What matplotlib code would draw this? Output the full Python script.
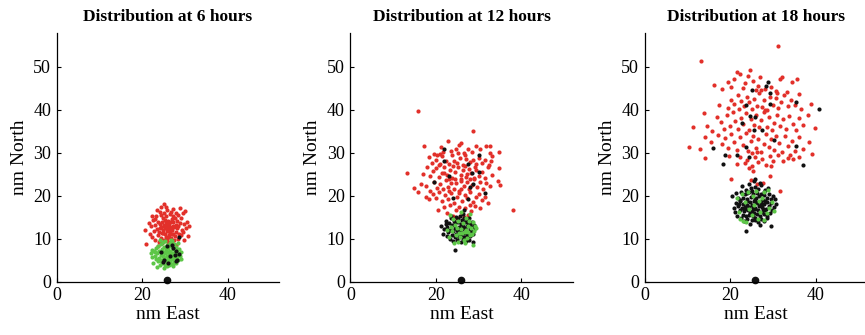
import numpy as np
import matplotlib
matplotlib.use('Agg')
import matplotlib.pyplot as plt

plt.rcParams['font.family'] = ['Liberation Serif', 'DejaVu Serif']
plt.rcParams['font.size'] = 11

# estimated positions (nm East, nm North) of the drifting particles
hours = [6, 12, 18]
origin = (25.8, 0.3)

red_6 = [
    (20.6, 12.1), (21.0, 8.8), (21.6, 13.6), (21.9, 11.2), (22.1, 12.9), (22.4, 10.4), (22.6, 14.3), (22.8, 11.8),
    (22.9, 9.6), (23.1, 13.1), (23.2, 15.2), (23.4, 12.2), (23.5, 16.6), (23.6, 10.9), (23.8, 14.0), (23.9, 11.6),
    (24.0, 9.3), (24.1, 13.5), (24.2, 12.4), (24.3, 15.6), (24.4, 17.4), (24.5, 10.2), (24.6, 13.9), (24.7, 11.3),
    (24.8, 14.8), (24.9, 12.0), (25.0, 18.0), (25.0, 9.8), (25.1, 13.2), (25.2, 16.1), (25.3, 11.0), (25.3, 14.4),
    (25.4, 12.6), (25.5, 10.5), (25.6, 15.2), (25.7, 13.0), (25.8, 11.8), (25.9, 16.8), (26.0, 12.2), (26.0, 9.2),
    (26.1, 14.1), (26.2, 10.9), (26.3, 13.5), (26.4, 15.8), (26.5, 11.4), (26.6, 12.8), (26.7, 16.3), (26.8, 10.1),
    (26.9, 14.6), (27.0, 12.0), (27.1, 13.9), (27.2, 11.0), (27.3, 15.3), (27.4, 9.6), (27.5, 12.7), (27.6, 14.9),
    (27.7, 10.7), (27.8, 13.3), (27.9, 16.0), (28.0, 11.6), (28.1, 12.4), (28.2, 14.2), (28.3, 9.9), (28.4, 15.6),
    (28.5, 12.9), (28.6, 11.2), (28.8, 13.7), (28.9, 17.2), (29.0, 10.8), (29.1, 14.8), (29.3, 12.1), (29.5, 15.9),
    (29.6, 11.5), (29.8, 13.4), (30.0, 16.4), (30.2, 12.6), (30.4, 14.0), (30.7, 10.6), (30.9, 13.0), (23.0, 14.7),
    (24.6, 8.9), (26.4, 8.7), (25.6, 17.3), (27.3, 17.0), (22.3, 15.4), (29.9, 9.7), (24.1, 16.3), (27.8, 8.6),
    (23.6, 8.2), (26.9, 9.0), (25.2, 12.9), (26.3, 11.9), (25.8, 13.6), (26.7, 12.4), (24.8, 11.4), (27.3, 13.0),
    (25.5, 14.0), (26.1, 10.4), (24.4, 12.8), (27.0, 11.1), (25.9, 10.0), (26.6, 13.9),
]
green_6 = [
    (22.1, 6.6), (22.4, 5.8), (22.6, 4.3), (22.8, 7.2), (23.0, 6.1), (23.2, 5.2), (23.3, 7.9), (23.5, 6.7),
    (23.6, 4.8), (23.8, 8.4), (23.9, 5.6), (24.0, 7.1), (24.1, 3.9), (24.3, 6.3), (24.4, 8.8), (24.5, 5.1),
    (24.6, 7.6), (24.7, 4.4), (24.8, 6.0), (24.9, 9.2), (25.0, 3.2), (25.0, 7.0), (25.1, 5.5), (25.2, 8.1),
    (25.3, 4.0), (25.3, 6.6), (25.4, 9.5), (25.5, 5.0), (25.6, 7.4), (25.7, 3.6), (25.7, 6.1), (25.8, 8.6),
    (25.9, 4.6), (26.0, 6.9), (26.0, 5.4), (26.1, 7.9), (26.2, 3.8), (26.3, 6.3), (26.4, 9.0), (26.5, 4.9),
    (26.5, 7.2), (26.6, 5.8), (26.7, 8.3), (26.8, 4.2), (26.9, 6.6), (27.0, 9.5), (27.0, 5.2), (27.1, 7.6),
    (27.2, 3.6), (27.3, 6.0), (27.4, 8.7), (27.5, 4.7), (27.6, 7.0), (27.7, 5.5), (27.8, 8.0), (27.9, 6.4),
    (28.0, 4.4), (28.1, 7.3), (28.2, 5.8), (28.4, 6.8), (28.5, 5.0), (28.7, 7.6), (28.8, 6.1), (29.0, 5.4),
    (29.2, 6.9), (23.4, 3.5), (24.2, 9.6), (26.8, 9.8), (28.3, 9.1), (22.3, 7.4), (24.9, 5.9), (26.2, 6.8),
    (25.5, 8.0), (27.1, 4.1), (24.3, 4.8), (23.1, 6.9),
]
black_6 = [
    (24.5, 7.0), (25.2, 5.0), (26.5, 6.0), (27.0, 8.6), (27.6, 6.3), (27.9, 4.8), (28.2, 5.1),
    (28.6, 6.4), (28.6, 10.5), (26.0, 4.4), (25.8, 8.4), (27.3, 7.8), (24.8, 4.6), (28.0, 7.1),
]

red_12 = [
    (19.5, 29.7), (20.2, 29.5), (21.3, 31.4), (22.8, 32.7), (23.5, 30.4), (24.7, 31.0), (25.5, 31.9), (26.0, 32.2),
    (26.8, 29.5), (28.4, 30.2), (29.3, 31.6), (30.4, 31.0), (31.8, 31.5), (32.6, 30.0), (33.2, 29.2), (21.7, 30.2),
    (27.5, 30.8), (25.1, 29.9), (18.3, 29.0), (19.1, 27.6), (20.0, 28.3), (20.8, 27.1), (21.5, 29.2), (22.4, 28.0),
    (23.1, 27.3), (23.8, 29.4), (24.2, 28.2), (25.0, 27.6), (25.7, 28.9), (26.3, 27.2), (27.0, 28.6), (27.9, 27.9),
    (28.6, 28.3), (29.5, 27.4), (30.1, 28.8), (30.8, 27.6), (31.6, 28.4), (32.4, 27.2), (33.0, 28.0), (34.7, 30.1),
    (20.9, 29.8), (26.6, 29.9), (17.1, 25.0), (18.0, 26.6), (18.6, 24.5), (19.4, 25.7), (20.1, 26.4), (20.7, 24.3),
    (21.4, 25.4), (22.0, 26.8), (22.6, 24.9), (23.3, 26.1), (23.9, 24.2), (24.5, 25.6), (25.2, 26.6), (25.8, 24.8),
    (26.4, 25.9), (27.1, 24.4), (27.7, 26.3), (28.3, 25.2), (28.9, 24.1), (29.5, 26.0), (30.1, 24.6), (30.7, 25.5),
    (31.4, 24.2), (32.2, 26.6), (33.1, 24.8), (34.8, 26.5), (24.0, 26.9), (26.9, 27.0), (29.1, 26.8), (21.0, 27.5),
    (14.8, 21.9), (16.5, 22.8), (17.8, 22.3), (18.6, 21.2), (19.5, 23.3), (20.2, 21.9), (20.9, 22.7), (21.6, 21.5),
    (22.3, 23.6), (22.9, 22.1), (23.5, 23.0), (24.2, 21.6), (24.8, 22.9), (25.4, 21.2), (26.0, 23.5), (26.6, 22.2),
    (27.2, 23.3), (27.8, 21.6), (28.4, 22.6), (29.0, 23.8), (29.7, 22.0), (30.3, 23.1), (31.0, 21.6), (31.7, 22.9),
    (32.6, 22.2), (34.6, 23.4), (35.0, 22.5), (25.9, 24.0), (23.1, 24.0), (28.1, 24.0), (15.9, 20.8), (17.6, 19.8),
    (18.5, 19.3), (19.3, 20.5), (20.1, 19.6), (20.8, 20.9), (21.5, 18.7), (22.2, 20.1), (22.9, 19.2), (23.6, 20.6),
    (24.3, 18.4), (24.9, 19.8), (25.5, 20.7), (26.1, 18.9), (26.8, 20.2), (27.4, 19.4), (28.1, 20.8), (28.7, 18.6),
    (29.4, 19.8), (30.1, 20.5), (30.8, 19.1), (31.6, 19.8), (32.2, 18.3), (25.8, 21.5), (23.0, 21.0), (27.9, 17.9),
    (20.5, 16.6), (21.8, 17.4), (22.6, 16.0), (23.4, 17.9), (24.1, 15.3), (24.8, 16.8), (25.5, 17.5), (26.2, 16.1),
    (26.9, 17.2), (27.6, 15.6), (28.3, 16.4), (29.1, 17.6), (30.3, 17.1), (25.0, 14.8), (26.6, 15.0), (15.9, 39.7),
    (38.0, 16.7), (13.3, 25.4), (28.6, 35.0), (17.2, 31.6), (32.6, 31.6), (22.0, 25.3), (27.4, 25.1), (24.6, 23.9),
]
green_12 = [
    (22.6, 12.0), (23.0, 10.3), (23.3, 15.6), (23.8, 11.9), (24.2, 9.1), (24.4, 13.1), (24.7, 10.9), (25.0, 12.4),
    (25.2, 9.2), (25.3, 14.1), (25.6, 10.3), (25.8, 12.2), (26.0, 16.3), (26.2, 11.4), (26.4, 13.6), (26.6, 9.6),
    (26.8, 11.5), (27.0, 14.8), (27.1, 12.1), (27.3, 10.1), (27.5, 13.0), (27.6, 11.6), (27.8, 14.2), (28.0, 10.9),
    (28.2, 12.5), (28.4, 11.1), (28.6, 13.9), (28.7, 8.6), (28.9, 11.7), (29.2, 12.9), (29.5, 12.4), (24.0, 14.6),
    (26.9, 9.1), (25.4, 11.3), (27.9, 15.7), (23.5, 12.7),
]
black_12 = [
    (21.3, 13.0), (21.6, 11.0), (22.0, 12.2), (22.3, 14.2), (22.5, 10.6), (22.7, 12.8), (22.9, 11.5), (23.1, 13.7),
    (23.2, 9.9), (23.4, 12.1), (23.5, 14.8), (23.7, 10.8), (23.8, 13.2), (24.0, 11.7), (24.1, 9.5), (24.2, 14.1),
    (24.4, 12.5), (24.5, 10.3), (24.6, 13.6), (24.7, 11.1), (24.8, 15.0), (24.9, 12.0), (25.0, 9.8), (25.1, 13.9),
    (25.2, 11.4), (25.3, 14.6), (25.4, 10.5), (25.5, 12.8), (25.6, 15.3), (25.7, 11.9), (25.8, 9.2), (25.9, 13.4),
    (26.0, 10.9), (26.1, 14.3), (26.2, 12.3), (26.3, 9.9), (26.4, 13.0), (26.5, 11.3), (26.6, 14.9), (26.7, 10.4),
    (26.8, 12.6), (26.9, 13.9), (27.0, 9.5), (27.1, 11.7), (27.2, 14.4), (27.3, 10.8), (27.4, 12.9), (27.5, 13.7),
    (27.6, 11.1), (27.7, 14.8), (27.8, 9.8), (27.9, 12.2), (28.0, 13.4), (28.1, 10.6), (28.3, 11.9), (28.4, 14.0),
    (28.5, 12.7), (28.6, 9.3), (28.8, 11.0), (28.9, 13.3), (29.1, 12.4), (23.6, 15.3), (26.3, 15.8), (24.5, 7.4),
    (22.4, 13.5), (22.0, 30.9), (21.8, 28.0), (23.0, 24.5), (27.5, 27.5), (30.0, 29.5), (27.9, 22.0), (28.8, 22.8),
    (27.5, 19.2), (31.5, 20.6), (24.0, 19.5), (19.5, 23.3), (30.0, 25.5), (26.5, 16.6), (28.5, 25.3),
]

red_18 = [
    (16.3, 45.7), (18.0, 44.9), (19.5, 46.4), (20.2, 45.2), (20.8, 47.1), (21.7, 48.9), (22.2, 48.3), (23.5, 46.3),
    (24.2, 47.8), (24.6, 49.3), (25.3, 46.8), (26.5, 45.5), (27.0, 47.6), (28.1, 44.8), (29.5, 45.2), (30.8, 44.3),
    (31.7, 47.2), (32.2, 47.6), (34.5, 46.4), (35.6, 47.2), (36.0, 43.6), (33.2, 44.1), (23.0, 45.0), (26.1, 44.5),
    (17.5, 41.1), (19.6, 40.5), (20.1, 42.3), (21.0, 41.4), (21.8, 43.4), (22.0, 40.2), (22.6, 42.0), (23.2, 40.9),
    (23.9, 43.0), (24.5, 41.8), (25.1, 40.3), (25.6, 42.6), (26.2, 41.0), (26.8, 43.9), (27.4, 40.6), (28.0, 42.3),
    (28.6, 40.0), (29.3, 43.1), (29.9, 41.2), (30.6, 42.8), (31.2, 40.4), (32.0, 41.9), (32.7, 43.4), (33.5, 40.8),
    (34.3, 42.2), (35.1, 41.2), (36.6, 40.2), (38.8, 41.3), (31.0, 44.0), (27.2, 44.7), (13.9, 39.2), (14.6, 36.3),
    (16.8, 38.4), (17.9, 37.1), (18.6, 35.5), (19.3, 38.8), (19.9, 36.2), (20.6, 39.5), (21.2, 37.3), (21.9, 35.6),
    (22.5, 38.1), (23.1, 36.6), (23.7, 39.2), (24.3, 35.3), (24.9, 37.8), (25.5, 36.4), (26.1, 38.9), (26.7, 35.9),
    (27.3, 37.6), (27.9, 39.4), (28.5, 36.1), (29.1, 38.3), (29.7, 35.4), (30.3, 37.0), (30.9, 38.8), (31.6, 36.3),
    (32.3, 37.9), (33.0, 35.6), (33.8, 38.5), (34.6, 36.8), (35.3, 35.2), (36.2, 38.0), (37.1, 36.4), (38.2, 38.7),
    (39.9, 35.7), (11.4, 35.9), (15.7, 35.1), (28.2, 40.0), (10.4, 31.3), (13.0, 30.8), (14.0, 33.6), (15.6, 32.4),
    (17.2, 34.1), (18.1, 32.0), (18.8, 33.4), (19.5, 31.2), (20.3, 34.3), (21.0, 32.6), (21.6, 30.6), (22.3, 33.7),
    (22.9, 31.9), (23.6, 34.6), (24.2, 30.5), (24.8, 32.8), (25.4, 34.0), (26.0, 31.2), (26.6, 33.3), (27.2, 30.3),
    (27.8, 32.1), (28.4, 34.4), (29.0, 31.4), (29.6, 33.2), (30.2, 30.7), (30.8, 34.0), (31.5, 32.3), (32.2, 30.2),
    (32.9, 33.9), (33.6, 31.5), (34.4, 32.8), (35.2, 30.4), (36.1, 33.6), (37.0, 31.0), (38.4, 32.5), (25.1, 29.9),
    (26.3, 30.1), (34.0, 29.6), (14.2, 28.9), (19.7, 29.2), (21.5, 27.4), (22.4, 29.0), (23.4, 27.6), (24.0, 28.4),
    (25.0, 26.9), (25.7, 29.1), (26.5, 27.8), (27.4, 28.6), (28.3, 27.1), (29.2, 29.3), (30.1, 28.2), (31.2, 29.6),
    (32.4, 28.0), (33.5, 28.8), (34.8, 28.6), (36.0, 29.0), (39.2, 29.8), (24.4, 26.5), (29.6, 27.0), (20.3, 24.0),
    (25.3, 25.8), (26.2, 22.7), (29.4, 24.5), (31.7, 21.1), (24.9, 23.6), (27.6, 23.0), (31.2, 54.9), (13.2, 51.3),
]
green_18 = [
    (21.5, 19.5), (22.0, 16.3), (22.7, 20.4), (23.0, 14.2), (23.8, 13.9), (24.2, 20.8), (25.0, 15.5), (25.6, 17.8),
    (26.0, 21.0), (26.5, 14.6), (27.0, 16.3), (27.5, 19.5), (28.0, 20.8), (28.6, 15.9), (29.1, 17.2), (29.7, 18.6),
    (30.2, 16.5), (22.3, 14.6), (24.5, 16.9), (26.8, 18.7), (27.9, 14.3), (23.4, 18.6), (28.9, 21.3), (25.3, 19.9),
]
black_18 = [
    (22.8, 22.3), (23.6, 21.4), (24.3, 22.8), (25.0, 21.2), (25.5, 23.5), (25.9, 22.1), (26.6, 21.6), (27.3, 22.5),
    (28.1, 21.3), (28.9, 21.9), (24.8, 21.8), (26.9, 22.9), (20.5, 19.9), (21.3, 20.6), (21.9, 19.4), (22.5, 20.8),
    (23.0, 19.6), (23.5, 20.3), (24.0, 19.2), (24.4, 20.9), (24.9, 19.7), (25.3, 20.5), (25.8, 19.3), (26.2, 20.7),
    (26.7, 19.9), (27.1, 20.4), (27.6, 19.1), (28.0, 20.1), (28.5, 19.6), (29.0, 20.4), (29.5, 19.3), (30.0, 20.0),
    (30.4, 19.2), (22.2, 19.0), (27.8, 20.8), (23.9, 20.6), (26.0, 19.5), (20.9, 17.2), (21.4, 18.4), (21.8, 17.6),
    (22.3, 18.8), (22.7, 17.1), (23.1, 18.2), (23.5, 17.5), (23.9, 18.7), (24.3, 17.3), (24.7, 18.5), (25.1, 17.8),
    (25.5, 18.9), (25.9, 17.2), (26.3, 18.3), (26.7, 17.6), (27.1, 18.8), (27.5, 17.4), (27.9, 18.1), (28.3, 17.0),
    (28.7, 18.6), (29.1, 17.7), (29.6, 18.3), (30.2, 17.4), (30.8, 18.0), (24.0, 17.9), (26.0, 18.6), (28.1, 18.9),
    (22.0, 18.1), (25.3, 17.1), (27.3, 18.2), (21.2, 16.2), (21.7, 15.4), (22.4, 16.7), (22.9, 15.6), (23.3, 16.4),
    (23.7, 15.2), (24.1, 16.8), (24.6, 15.9), (25.0, 16.5), (25.4, 15.3), (25.8, 16.9), (26.2, 15.8), (26.6, 16.6),
    (27.0, 15.4), (27.4, 16.2), (27.8, 15.7), (28.2, 16.8), (28.6, 15.2), (29.2, 16.1), (29.8, 16.7), (23.5, 16.9),
    (25.6, 16.0), (27.6, 16.9), (24.4, 15.5), (22.5, 14.8), (23.3, 14.1), (24.0, 14.6), (24.6, 13.5), (25.2, 14.3),
    (25.7, 14.9), (26.4, 13.9), (27.1, 14.5), (27.9, 14.2), (28.5, 14.8), (23.8, 11.8), (29.5, 13.0), (25.9, 14.4),
    (26.9, 13.3), (28.8, 46.5), (25.1, 44.7), (28.4, 45.5), (29.3, 43.9), (23.6, 41.1), (35.3, 41.9), (29.2, 41.4),
    (40.8, 40.1), (22.8, 36.9), (24.6, 38.6), (27.4, 35.4), (30.2, 33.0), (23.8, 31.3), (16.0, 31.1), (18.9, 29.6),
    (18.3, 27.4), (37.1, 27.2), (35.4, 31.6), (21.6, 29.4), (24.3, 29.0), (25.7, 24.0), (25.6, 35.2), (25.9, 38.3),
]

reds = [red_6, red_12, red_18]
greens = [green_6, green_12, green_18]
blacks = [black_6, black_12, black_18]

RED = '#e2302a'
GREEN = '#5cc647'
BLACK = '#111111'

fig = plt.figure(figsize=(8.65, 3.35), dpi=100)
lefts = [0.0655, 0.405, 0.7453]

for i, h in enumerate(hours):
    ax = fig.add_axes([lefts[i], 0.159, 0.257, 0.7415])
    # at 6 h the few black points sit over the green blob, later the green ones lie on top
    if i == 0:
        layers = [(reds[i], RED), (greens[i], GREEN), (blacks[i], BLACK)]
    else:
        layers = [(reds[i], RED), (blacks[i], BLACK), (greens[i], GREEN)]
    for pts, c in layers:
        p = np.array(pts)
        ax.scatter(p[:, 0], p[:, 1], s=9, c=c, marker='o', linewidths=0)
    ax.plot(origin[0], origin[1], 'o', color=BLACK, markersize=4.5, clip_on=False)

    ax.set_xlim(0, 52)
    ax.set_ylim(0, 57.8)
    ax.set_xticks([0, 20, 40])
    ax.set_yticks([0, 10, 20, 30, 40, 50])
    ax.tick_params(direction='in', length=3, labelsize=13, pad=4)
    for s in ['top', 'right']:
        ax.spines[s].set_visible(False)
    for s in ['left', 'bottom']:
        ax.spines[s].set_linewidth(0.9)
    ax.set_xlabel('nm East', fontsize=14, labelpad=1)
    ax.set_ylabel('nm North', fontsize=14, labelpad=4)
    ax.set_title(f'Distribution at {h} hours', fontsize=12.5, fontweight='bold', pad=9)

fig.savefig('out.png', dpi=100)
